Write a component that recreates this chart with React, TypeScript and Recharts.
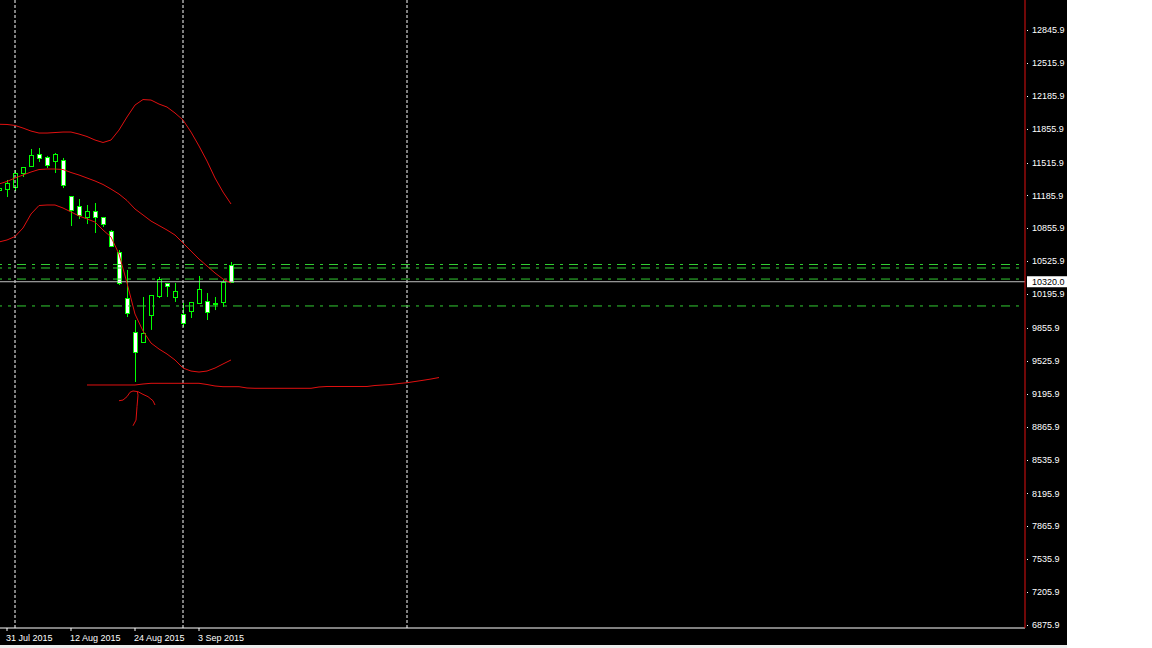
import { Bar, ComposedChart, Line, ReferenceLine, XAxis, YAxis } from "recharts";

// daily bars, index 0 = 31 Jul 2015 (first one is cut at the left edge)
const FIRST = -1;
const opens = [11240, 11250, 11270, 11411, 11481, 11602, 11572, 11531, 11542, 11180, 11080, 10970, 11030, 10970, 10829, 10618, 10157, 9816, 9715, 9986, 10177, 10307, 10167, 9996, 10026, 10107, 10127, 10097, 10117, 10488];
const highs = [11300, 11341, 11441, 11471, 11652, 11662, 11582, 11612, 11562, 11180, 11150, 11090, 11110, 10970, 10839, 10638, 10438, 9936, 10167, 10187, 10368, 10307, 10307, 10107, 10117, 10378, 10207, 10167, 10337, 10518];
const lows = [11170, 11170, 11230, 11371, 11481, 11521, 11461, 11411, 11260, 10879, 10950, 10899, 10809, 10869, 10669, 10287, 9966, 9314, 9715, 9837, 10157, 10167, 10117, 9866, 9956, 10107, 9936, 10036, 10067, 10310];
const closes = [11260, 11311, 11411, 11471, 11592, 11562, 11491, 11602, 11291, 11040, 10990, 11030, 10970, 10899, 10679, 10307, 10006, 9615, 9806, 10187, 10347, 10277, 10227, 9906, 10117, 10247, 10016, 10107, 10317, 10320];

const upperBand = [11900, 11898, 11888, 11862, 11832, 11812, 11812, 11817, 11822, 11822, 11802, 11777, 11742, 11717, 11742, 11842, 11973, 12093, 12148, 12143, 12103, 12073, 12013, 11943, 11822, 11682, 11531, 11361, 11220, 11100];
const middleBand = [11301, 11326, 11361, 11391, 11421, 11446, 11451, 11451, 11446, 11416, 11391, 11361, 11331, 11296, 11250, 11200, 11135, 11050, 10990, 10929, 10884, 10839, 10789, 10709, 10628, 10548, 10478, 10408, 10347, 10307];
const lowerBand = [10719, 10739, 10774, 10859, 11000, 11085, 11090, 11090, 11060, 11020, 10980, 10950, 10919, 10839, 10769, 10598, 10307, 9996, 9826, 9705, 9645, 9595, 9535, 9454, 9424, 9414, 9424, 9454, 9495, 9535];

// shifted line that runs into the empty future area
const FLAT_FIRST = 10;
const flatLine = [
  9284, 9284, 9284, 9284, 9284, 9284, 9284, 9294, 9301, 9301, 9301, 9301, 9301, 9301, 9301,
  9289, 9274, 9267, 9267, 9267, 9254, 9251, 9251, 9251, 9251, 9251, 9251, 9251, 9251, 9264,
  9269, 9269, 9269, 9269, 9269, 9269, 9279, 9284, 9289, 9299, 9307, 9319, 9331, 9344, 9359,
];

// hand drawn arrow under the 24 Aug low
const arrowArc = [
  { i: 14, v: 9126 }, { i: 14.5, v: 9133 }, { i: 15, v: 9167 }, { i: 15.375, v: 9211 },
  { i: 15.75, v: 9224 }, { i: 16.375, v: 9217 }, { i: 17, v: 9190 }, { i: 17.625, v: 9167 },
  { i: 18.25, v: 9126 }, { i: 18.5, v: 9083 },
];
const arrowStem = [
  { i: 16.3, v: 9213 }, { i: 16.375, v: 9183 }, { i: 16.25, v: 9066 }, { i: 16.125, v: 8932 }, { i: 15.75, v: 8875 },
];

const xTickIdx = [0, 8, 16, 24];
const xTickLabels = ["31 Jul 2015", "12 Aug 2015", "24 Aug 2015", "3 Sep 2015"];
const monthStarts = [1, 22, 50];
const yTicks = [12845.9, 12515.9, 12185.9, 11855.9, 11515.9, 11185.9, 10855.9, 10525.9, 10320, 10195.9, 9855.9, 9525.9, 9195.9, 8865.9, 8535.9, 8195.9, 7865.9, 7535.9, 7205.9, 6875.9];
const levelLines = [10493, 10458, 10347, 10077];
const lastPrice = 10320;

const FONT = "'Liberation Sans', Arial, sans-serif";
const RED = "#e01010";
const GREEN = "#32cd32";

const rows: any[] = [];
for (let i = FIRST; i < FLAT_FIRST + flatLine.length; i++) {
  const k = i - FIRST;
  const f = i - FLAT_FIRST;
  rows.push({
    i,
    o: opens[k],
    h: highs[k],
    l: lows[k],
    c: closes[k],
    upper: upperBand[k],
    middle: middleBand[k],
    lower: lowerBand[k],
    flat: f >= 0 ? flatLine[f] : undefined,
  });
}

function Candle(props: any) {
  const { x, y, width, height, payload } = props;
  if (!payload || payload.h == null || !isFinite(y)) return null;
  const { o, h, l, c } = payload;
  const span = h - l || 1;
  const py = (v: number) => y + ((h - v) / span) * height;
  const cx = Math.round(x + width / 2) + 0.5;
  const top = Math.round(py(Math.max(o, c))) + 0.5;
  const bot = Math.round(py(Math.min(o, c))) + 0.5;
  const bull = c >= o;
  return (
    <g>
      <line x1={cx} x2={cx} y1={py(h)} y2={py(l)} stroke="#00ff00" strokeWidth={1} />
      {bot - top < 1 ? (
        <line x1={cx - 2} x2={cx + 2} y1={top} y2={top} stroke="#00ff00" strokeWidth={1} />
      ) : (
        <rect x={cx - 2} y={top} width={4} height={bot - top} fill={bull ? "#000" : "#fff"} stroke="#00ff00" strokeWidth={1} />
      )}
    </g>
  );
}

function DateTick(props: any) {
  const { x, y, payload } = props;
  const k = xTickIdx.indexOf(payload.value);
  return (
    <text x={x - 1} y={y + 10} fill="#fff" fontSize={9} fontFamily={FONT} textAnchor="start">
      {xTickLabels[k]}
    </text>
  );
}

function PriceTick(props: any) {
  const { x, y, payload } = props;
  const v = payload.value as number;
  if (v === lastPrice) {
    return (
      <g>
        <rect x={x + 2} y={y - 5.5} width={40} height={11} fill="#fff" />
        <text x={x + 7} y={y} dy="0.35em" fill="#000" fontSize={9} fontFamily={FONT}>
          {v.toFixed(1)}
        </text>
      </g>
    );
  }
  return (
    <g>
      <rect x={x + 2} y={Math.round(y)} width={1} height={1} fill="#fff" />
      <text x={x + 7} y={y} dy="0.35em" fill="#fff" fontSize={9} fontFamily={FONT}>
        {v.toFixed(1)}
      </text>
    </g>
  );
}

export default function App() {
  return (
    <div style={{ position: "absolute", left: 0, top: 0, width: 1152, height: 648, background: "#fff" }}>
      <div style={{ position: "absolute", left: 0, top: 0, width: 1067, height: 645, background: "#000" }}>
        <ComposedChart width={1067} height={645} data={rows} margin={{ top: 0, right: 0, bottom: 0, left: 0 }}>
          <XAxis
            type="number"
            dataKey="i"
            domain={[-0.875, 127.25]}
            allowDataOverflow
            ticks={xTickIdx}
            interval={0}
            height={17}
            tickSize={3}
            tickMargin={0}
            axisLine={{ stroke: "#fff" }}
            tickLine={{ stroke: "#fff" }}
            tick={<DateTick />}
          />
          <YAxis
            orientation="right"
            type="number"
            domain={[6845.8, 13146.9]}
            allowDataOverflow
            ticks={yTicks}
            interval={0}
            width={42}
            tickSize={0}
            tickMargin={0}
            tickLine={false}
            axisLine={{ stroke: RED }}
            tick={<PriceTick />}
          />
          {monthStarts.map((m) => (
            <ReferenceLine key={"m" + m} x={m} stroke="#fff" strokeDasharray="3 2" />
          ))}
          {levelLines.map((lv) => (
            <ReferenceLine key={"l" + lv} y={lv} stroke={GREEN} strokeDasharray="9 6 3 6" strokeDashoffset={9} />
          ))}
          <ReferenceLine y={lastPrice} stroke="#c0c0c0" />
          <Line dataKey="upper" stroke={RED} strokeWidth={1} dot={false} activeDot={false} isAnimationActive={false} />
          <Line dataKey="middle" stroke={RED} strokeWidth={1} dot={false} activeDot={false} isAnimationActive={false} />
          <Line dataKey="lower" stroke={RED} strokeWidth={1} dot={false} activeDot={false} isAnimationActive={false} />
          <Line dataKey="flat" stroke={RED} strokeWidth={1} dot={false} activeDot={false} isAnimationActive={false} />
          <Line data={arrowArc} dataKey="v" stroke={RED} strokeWidth={1} dot={false} activeDot={false} isAnimationActive={false} />
          <Line data={arrowStem} dataKey="v" stroke={RED} strokeWidth={1} dot={false} activeDot={false} isAnimationActive={false} />
          <Bar
            dataKey={(r: any) => (r.h == null ? undefined : [r.l, r.h])}
            barSize={5}
            shape={<Candle />}
            isAnimationActive={false}
          />
        </ComposedChart>
      </div>
      <div style={{ position: "absolute", left: 0, top: 645, width: 1067, height: 3, background: "#ececec" }} />
    </div>
  );
}
